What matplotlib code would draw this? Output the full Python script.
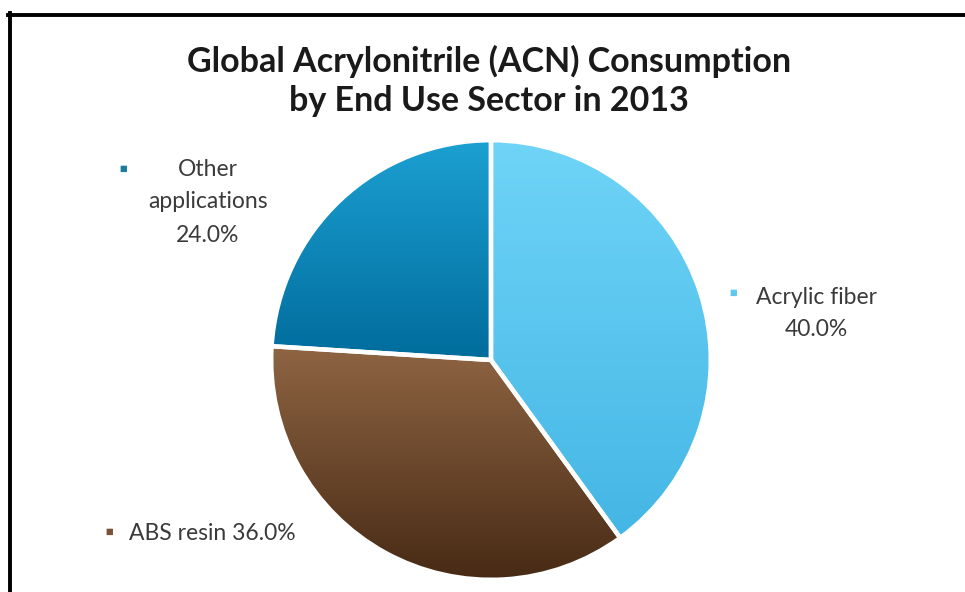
import numpy as np
import matplotlib.pyplot as plt
from matplotlib.colors import LinearSegmentedColormap
from matplotlib.lines import Line2D

W, H = 965, 592

title = "Global Acrylonitrile (ACN) Consumption\nby End Use Sector in 2013"
sectors = ["Acrylic fiber", "ABS resin", "Other applications"]
shares = [40.0, 36.0, 24.0]
# top / bottom colour of each slice's vertical gradient
grad_top = ["#6fd4f7", "#8f6543", "#1ca0d2"]
grad_bottom = ["#44b6e5", "#472a15", "#006c9c"]
legend_colors = ["#5fc8ee", "#7a5236", "#1a7d9c"]


def px(x, y):
    """pixel coords (origin top-left) -> figure fraction"""
    return x / W, 1 - y / H


fig = plt.figure(figsize=(W / 100, H / 100), dpi=100)
plt.rcParams["font.family"] = ["Lato", "DejaVu Sans"]

cx, cy, r = 491, 360, 222
ax = fig.add_axes([(cx - r) / W, (H - cy - r) / H, 2 * r / W, 2 * r / H])
wedges, _ = ax.pie(shares, startangle=90, counterclock=False, radius=1,
                   wedgeprops=dict(facecolor="none", edgecolor="white", linewidth=3.2))

for w, c0, c1 in zip(wedges, grad_top, grad_bottom):
    w.set_zorder(3)
    ext = w.get_path().get_extents()
    cmap = LinearSegmentedColormap.from_list("g", [c1, c0])
    grad = np.linspace(0, 1, 256).reshape(-1, 1)
    im = ax.imshow(grad, cmap=cmap, origin="lower", aspect="auto",
                   extent=[ext.x0, ext.x1, ext.y0, ext.y1], zorder=2)
    im.set_clip_path(w)
ax.set_xlim(-1.01, 1.01)
ax.set_ylim(-1.01, 1.01)
ax.set_aspect("equal")
ax.axis("off")

fig.text(*px(489, 81), title, ha="center", va="center", fontsize=24.5,
         fontweight="bold", color="#1a1a1a", linespacing=1.26)

label_color = "#3a3a3a"
fs = 16.5
ms = 17
# Acrylic fiber
fig.text(*px(733, 294), "\u25aa", color=legend_colors[0], fontsize=ms, ha="center", va="center")
fig.text(*px(816, 297), sectors[0], color=label_color, fontsize=fs, ha="center", va="center")
fig.text(*px(816, 330), f"{shares[0]:.1f}%", color=label_color, fontsize=fs, ha="center", va="center")
# ABS resin
fig.text(*px(109, 533), "\u25aa", color=legend_colors[1], fontsize=ms, ha="center", va="center")
fig.text(*px(129, 533), f"{sectors[1]} {shares[1]:.1f}%", color=label_color, fontsize=fs,
         ha="left", va="center")
# Other applications
fig.text(*px(123, 170), "\u25aa", color=legend_colors[2], fontsize=ms, ha="center", va="center")
fig.text(*px(208, 170), "Other", color=label_color, fontsize=fs, ha="center", va="center")
fig.text(*px(208, 202), "applications", color=label_color, fontsize=fs, ha="center", va="center")
fig.text(*px(208, 235), f"{shares[2]:.1f}%", color=label_color, fontsize=fs, ha="center", va="center")

# frame: top and left rules
fig.add_artist(Line2D([8 / W, 1], [1 - 14.5 / H] * 2, color="black", lw=2.8,
                      transform=fig.transFigure))
fig.add_artist(Line2D([9.5 / W] * 2, [0, 1 - 13 / H], color="black", lw=2.8,
                      transform=fig.transFigure))

fig.savefig("out.png", dpi=100)
